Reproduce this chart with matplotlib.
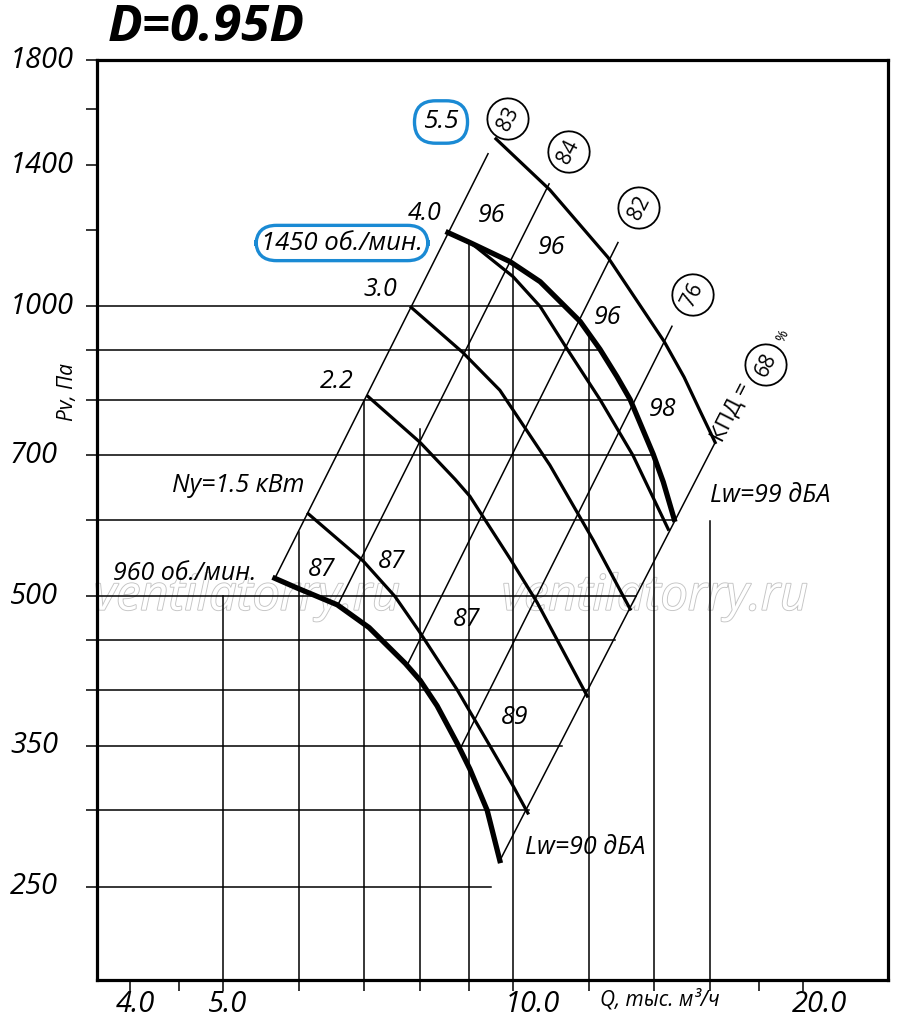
import matplotlib
matplotlib.use("Agg")
import matplotlib.pyplot as plt
import matplotlib.transforms as mtransforms
import matplotlib.patheffects as pe
from matplotlib.ticker import FixedLocator, NullLocator, NullFormatter

plt.rcParams['font.family'] = ['Open Sans', 'DejaVu Sans']

# fan curves, Q in thousand m3/h, Pv in Pa
q_960 = [5.66, 5.97, 6.57, 7.09, 7.73, 8.01, 8.34, 8.75, 9.02, 9.40, 9.69]
p_960 = [522, 510, 490, 464, 426, 409, 385, 352, 331, 300, 266]

q_1450 = [8.56, 9.02, 9.93, 10.67, 11.74, 12.31, 12.82, 13.23, 13.98, 14.32, 14.70]
p_1450 = [1192, 1164, 1112, 1060, 964, 902, 845, 800, 702, 657, 601]

q_n15 = [6.13, 6.99, 7.54, 7.99, 8.75, 9.46, 10.0, 10.36]
p_n15 = [609, 544, 500, 460, 400, 350, 318, 298]

q_n22 = [7.07, 8.01, 8.71, 9.02, 9.93, 10.59, 11.94]
p_n22 = [806, 722, 661, 635, 547, 493, 394]

q_n30 = [7.84, 8.87, 9.69, 10.92, 12.11, 13.23]
p_n30 = [997, 895, 818, 684, 572, 485]

q_n40 = [8.56, 9.09, 10.0, 10.67, 11.41, 12.31, 13.32, 14.49]
p_n40 = [1192, 1158, 1073, 999, 899, 800, 700, 587]

q_n55 = [9.60, 10.92, 12.55, 14.35, 15.05, 15.64, 16.21]
p_n55 = [1491, 1320, 1123, 919, 844, 778, 722]

# efficiency lines (lower end, upper end)
eff_labels = ['83', '84', '82', '76', '68']
eff_q_low = [5.66, 6.58, 7.78, 8.82, 9.69]
eff_p_low = [522, 490, 426, 348, 266]
eff_q_high = [9.42, 10.90, 12.85, 14.62, 16.21]
eff_p_high = [1439, 1339, 1164, 953, 722]

# horizontal grid lines and where they stop
h_p = [1000, 900, 800, 700, 600, 500, 450, 400, 350, 300, 250]
h_q_end = [11.32, 12.25, 13.23, 13.98, 14.70, 13.42, 12.76, 11.94, 11.24, 10.39, 9.49]

# vertical grid lines and where they stop
v_q = [5, 6, 7, 8, 9, 10, 12, 14, 16]
v_p_top = [500, 583, 797, 745, 1164, 1106, 932, 702, 598]

x_ticks = [4, 4.5, 5, 6, 7, 8, 9, 10, 12, 14, 16, 18, 20]
x_ticklabels = ['4.0', '5.0', '10.0', '20.0']
y_ticks = [250, 300, 350, 400, 450, 500, 600, 700, 800, 900, 1000, 1200, 1400, 1600, 1800]
y_ticklabels = [250, 350, 500, 700, 1000, 1400, 1800]

lw_labels = ['87', '87', '87', '89', '96', '96', '96', '98']

W, H = 900, 1029
fig = plt.figure(figsize=(W / 100, H / 100), dpi=100)
ax = fig.add_axes([97 / W, 1 - 980 / H, 791 / W, 920 / H])
ax.set_xscale('log')
ax.set_yscale('log')
ax.set_xlim(3.70, 24.5)
ax.set_ylim(200, 1800)

# pixel coords with origin top-left
px = mtransforms.Affine2D().scale(1 / W, -1 / H).translate(0, 1) + fig.transFigure

ax.xaxis.set_major_locator(FixedLocator(x_ticks))
ax.yaxis.set_major_locator(FixedLocator(y_ticks))
ax.xaxis.set_minor_locator(NullLocator())
ax.yaxis.set_minor_locator(NullLocator())
ax.xaxis.set_major_formatter(NullFormatter())
ax.yaxis.set_major_formatter(NullFormatter())
ax.tick_params(direction='out', length=8, width=1.1, colors='black')
for s in ax.spines.values():
    s.set_linewidth(2.3)
    s.set_zorder(5)

# grid
for p, qe in zip(h_p, h_q_end):
    ax.plot([3.70, qe], [p, p], color='black', lw=1.1, zorder=2)
for q, pt in zip(v_q, v_p_top):
    ax.plot([q, q], [200, pt], color='black', lw=1.1, zorder=2)

# efficiency lines
for i in range(len(eff_labels)):
    ax.plot([eff_q_low[i], eff_q_high[i]], [eff_p_low[i], eff_p_high[i]],
            color='black', lw=1.1, zorder=2)

# curves
for q, p in [(q_n15, p_n15), (q_n22, p_n22), (q_n30, p_n30), (q_n40, p_n40), (q_n55, p_n55)]:
    ax.plot(q, p, color='black', lw=2.3, solid_joinstyle='round', zorder=3)
ax.plot(q_960, p_960, color='black', lw=3.8, solid_joinstyle='round', zorder=4)
ax.plot(q_1450, p_1450, color='black', lw=3.8, solid_joinstyle='round', zorder=4)

# watermarks
for xw in [247, 655]:
    ax.text(xw, 597, 'ventilatorry.ru', transform=px, fontsize=35, style='italic',
            color='white', ha='center', va='center', zorder=1,
            path_effects=[pe.withStroke(linewidth=1.3, foreground='#c4c4c4')])

# tick labels
ylab_tr = mtransforms.blended_transform_factory(fig.transFigure, ax.transData)
for v in y_ticklabels:
    ax.text(10 / W, v, str(v), transform=ylab_tr, fontsize=21, style='italic',
            ha='left', va='center')
for lab, xc in zip(x_ticklabels, [135, 228, 532, 820]):
    ax.text(xc, 1005, lab, transform=px, fontsize=21, style='italic', ha='center', va='center')
ax.text(660, 1000, 'Q, тыс. м³/ч', transform=px, fontsize=15, style='italic',
        ha='center', va='center')
ax.text(68, 392, 'Pv, Па', transform=px, fontsize=15, style='italic', rotation=90,
        ha='center', va='center')

fig.text(206 / W, 1 - 28 / H, 'D=0.95D', fontsize=37, fontweight='bold', style='italic',
         ha='center', va='center')

# curve labels
blue = '#1a8ad4'
ax.text(441, 122, '5.5', transform=px, fontsize=19, style='italic', ha='center', va='center',
        bbox=dict(boxstyle='round,pad=0.33,rounding_size=0.8', fc='white', ec=blue, lw=2.4))
ax.text(342, 243, '1450 об./мин.', transform=px, fontsize=18.5, style='italic',
        ha='center', va='center',
        bbox=dict(boxstyle='round,pad=0.2,rounding_size=0.8', fc='white', ec=blue, lw=2.4))
ax.text(425, 213, '4.0', transform=px, fontsize=18, style='italic', ha='center', va='center')
ax.text(380, 290, '3.0', transform=px, fontsize=18, style='italic', ha='center', va='center')
ax.text(337, 381, '2.2', transform=px, fontsize=18, style='italic', ha='center', va='center')
ax.text(238, 486, 'Ny=1.5 кВт', transform=px, fontsize=18, style='italic', ha='center', va='center')
ax.text(185, 573, '960 об./мин.', transform=px, fontsize=18, style='italic', ha='center', va='center')

# noise levels
lw_pos = [(322, 570), (392, 561), (467, 620), (515, 717),
          (492, 215), (552, 247), (608, 317), (663, 410)]
for lab, (xp, yp) in zip(lw_labels, lw_pos):
    ax.text(xp, yp, lab, transform=px, fontsize=18, style='italic', ha='center', va='center',
            zorder=6)
ax.text(770, 495, 'Lw=99 дБА', transform=px, fontsize=18, style='italic', ha='center', va='center')
ax.text(585, 847, 'Lw=90 дБА', transform=px, fontsize=18, style='italic', ha='center', va='center')

# efficiency badges
eff_pos = [(508, 119), (569, 152), (639, 208), (693, 295), (766, 365)]
for lab, (xp, yp) in zip(eff_labels, eff_pos):
    ax.text(xp, yp, lab, transform=px, fontsize=15, rotation=63, ha='center', va='center',
            rotation_mode='anchor',
            bbox=dict(boxstyle='circle,pad=0.42', fc='white', ec='black', lw=1.3))
ax.text(732, 412, 'КПД =', transform=px, fontsize=16, rotation=63, ha='center', va='center',
        rotation_mode='anchor')
ax.text(783, 336, '%', transform=px, fontsize=10, rotation=63, ha='center', va='center')

fig.savefig('out.png', dpi=100, facecolor='white')
